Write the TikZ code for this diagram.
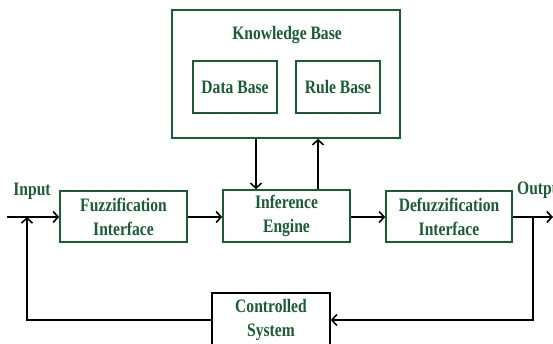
\documentclass[tikz,border=0pt]{standalone}
\usepackage{fontspec}
\setmainfont{Liberation Serif}[FakeStretch=0.82]
\usepackage{xcolor}
\usepackage{tikz}
\usetikzlibrary{arrows.meta, positioning}
\definecolor{fuzzgreen}{RGB}{28,92,52}
\tikzset{
    myarrow/.style={-{Straight Barb[length=5pt,width=11pt,line width=1.6pt]}},
    link/.style={draw=black, line width=1.6pt},
    box/.style={draw=fuzzgreen, line width=1.6pt, rectangle, text=fuzzgreen, font=\bfseries\fontsize{19}{24}\selectfont, fill=white, align=center, inner sep=0pt},
    lbl/.style={text=fuzzgreen, font=\bfseries\fontsize{19}{24}\selectfont, inner sep=0pt}
}
\begin{document}
\begin{tikzpicture}[x=1pt, y=-1pt]
    \clip (0,0) rectangle (553,343);
    % knowledge base with its two parts
    \node (kb) [box, minimum width=228pt, minimum height=128pt] at (286,74) {};
    \node (kbtitle) [lbl] at (287,35) {Knowledge Base};
    \node (db) [box, minimum width=84pt, minimum height=52pt] at (235,87) {Data Base};
    \node (rb) [box, minimum width=84pt, minimum height=52pt] at (338,87) {Rule Base};
    % main chain
    \node (fuzz) [box, minimum width=127pt, minimum height=51pt] at (123.5,216.5) {Fuzzification\\Interface};
    \node (inf) [box, minimum width=127pt, minimum height=52pt] at (286.5,216) {Inference\\Engine};
    \node (defuzz) [box, minimum width=126pt, minimum height=51pt] at (449,216.5) {Defuzzification\\Interface};
    \node (ctrl) [box, draw=black, minimum width=118pt, minimum height=54pt] at (271,320) {Controlled\\System};
    \node (inlbl) [lbl] at (32,191) {Input};
    \node (outlbl) [lbl, anchor=west] at (517,190) {Output};
    \coordinate (in) at (7,217);
    \coordinate (inj) at (27,217);
    \coordinate (outj) at (533,217);
    \coordinate (out) at (553,217);
    \draw [link, myarrow] (in) -- (fuzz.west |- in);
    \draw [link, myarrow] (fuzz.east |- in) -- (inf.west |- in);
    \draw [link, myarrow] (inf.east |- in) -- (defuzz.west |- in);
    \draw [link, myarrow] (defuzz.east |- in) -- (out);
    \draw [link, myarrow] ([xshift=-30pt]kb.south) -- ([xshift=-30pt]kb.south |- inf.north);
    \draw [link, myarrow] ([xshift=32pt]kb.south |- inf.north) -- ([xshift=32pt]kb.south);
    \draw [link, myarrow] (outj) |- (ctrl.east);
    \draw [link, myarrow] (ctrl.west) -| (inj);
\end{tikzpicture}
\end{document}
